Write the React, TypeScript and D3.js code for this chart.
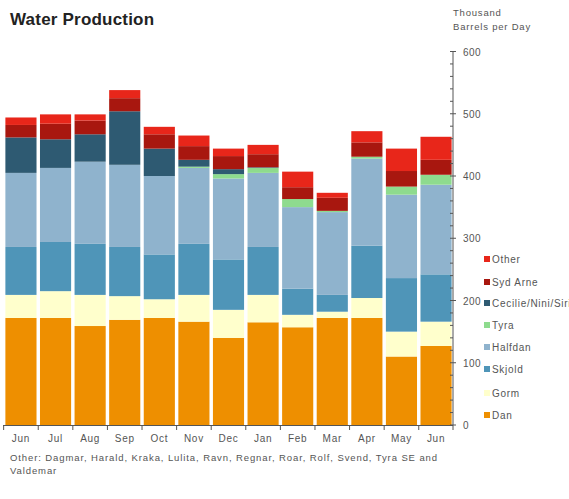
import React, { useEffect, useRef } from "react";
import * as d3 from "d3";

const months = ["Jun", "Jul", "Aug", "Sep", "Oct", "Nov", "Dec", "Jan", "Feb", "Mar", "Apr", "May", "Jun"];
const seriesNames = ["Dan", "Gorm", "Skjold", "Halfdan", "Tyra", "Cecilie/Nini/Siri", "Syd Arne", "Other"];
const dan = [172, 172, 159, 169, 172, 166, 140, 165, 157, 172, 172, 110, 127];
const gorm = [37, 43, 50, 38, 30, 43, 45, 44, 20, 10, 32, 40, 39];
const skjold = [77, 79, 82, 79, 72, 82, 81, 77, 42, 27, 84, 86, 76];
const halfdan = [119, 119, 132, 132, 126, 122, 130, 119, 131, 133, 140, 134, 144];
const tyra = [0, 0, 0, 0, 0, 2, 7, 8, 13, 2, 3, 13, 16];
const cecilie = [57, 46, 44, 86, 44, 11, 8, 1, 0, 0, 0, 0, 0];
const sydArne = [20, 25, 22, 21, 23, 22, 21, 21, 19, 21, 23, 25, 24];
const other = [12, 15, 10, 13, 12, 17, 12, 15, 25, 8, 18, 36, 37];
const colors = ["#ee8f00", "#ffffcc", "#4f95b8", "#8fb3cd", "#8edb8e", "#2e5a72", "#a8170f", "#e8261a"];
const yTicks = [0, 100, 200, 300, 400, 500, 600];

const App: React.FC = () => {
  const svgRef = useRef<SVGSVGElement>(null);

  useEffect(() => {
    const width = 569;
    const height = 499;
    const svg = d3.select(svgRef.current).attr("width", width).attr("height", height);
    svg.selectAll("*").remove();

    const font = "'Liberation Sans', Arial, sans-serif";
    const textColor = "#555";

    const values = [dan, gorm, skjold, halfdan, tyra, cecilie, sydArne, other];
    const rows = months.map((m, i) => {
      const r: any = { idx: i };
      seriesNames.forEach((s, j) => (r[s] = values[j][i]));
      return r;
    });

    const x = d3
      .scaleBand<number>()
      .domain(months.map((_, i) => i))
      .range([4, 453])
      .paddingInner(0.1)
      .paddingOuter(0.04);
    const y = d3.scaleLinear().domain([0, 600]).range([425, 51.5]);

    const stack = d3.stack<any>().keys(seriesNames);
    const layers = stack(rows);

    svg
      .append("g")
      .selectAll("g")
      .data(layers)
      .enter()
      .append("g")
      .attr("fill", (d, i) => colors[i])
      .selectAll("rect")
      .data(d => d)
      .enter()
      .append("rect")
      .attr("x", d => x(d.data.idx)!)
      .attr("width", x.bandwidth())
      .attr("y", d => y(d[1]))
      .attr("height", d => y(d[0]) - y(d[1]));

    // title
    svg
      .append("text")
      .attr("x", 10)
      .attr("y", 25)
      .text("Water Production")
      .style("font-family", font)
      .style("font-weight", "bold")
      .style("font-size", "17px")
      .style("letter-spacing", "0.2px")
      .style("fill", "#222");

    // y axis (right)
    const axisX = 453;
    const yAxis = svg.append("g").style("font-family", font);
    yAxis
      .append("line")
      .attr("x1", axisX)
      .attr("x2", axisX)
      .attr("y1", y(600))
      .attr("y2", y(0))
      .attr("stroke", "#555");
    const minor = d3.range(0, 601, 20);
    yAxis
      .selectAll("line.minor")
      .data(minor)
      .enter()
      .append("line")
      .attr("class", "minor")
      .attr("x1", axisX - 3)
      .attr("x2", d => (d % 100 === 0 ? axisX + 3 : axisX))
      .attr("y1", d => y(d))
      .attr("y2", d => y(d))
      .attr("stroke", "#555");
    yAxis
      .selectAll("text")
      .data(yTicks)
      .enter()
      .append("text")
      .attr("x", axisX + 10)
      .attr("y", d => y(d) + 4)
      .text(d => d)
      .style("font-size", "10px")
      .style("letter-spacing", "0.5px")
      .style("fill", textColor);
    ["Thousand", "Barrels per Day"].forEach((t, i) =>
      svg
        .append("text")
        .attr("x", 453)
        .attr("y", 16 + i * 14)
        .text(t)
        .style("font-family", font)
        .style("font-size", "9.5px")
        .style("letter-spacing", "0.8px")
        .style("fill", textColor)
    );

    // x axis
    const xAxis = svg.append("g").style("font-family", font);
    xAxis
      .append("line")
      .attr("x1", 3)
      .attr("x2", axisX)
      .attr("y1", y(0) + 0.5)
      .attr("y2", y(0) + 0.5)
      .attr("stroke", "#555");
    const step = x.step();
    const tickXs = months.map((_, i) => x(i)! - (step - x.bandwidth()) / 2).concat([axisX]);
    xAxis
      .selectAll("line.tick")
      .data(tickXs)
      .enter()
      .append("line")
      .attr("class", "tick")
      .attr("x1", d => d)
      .attr("x2", d => d)
      .attr("y1", y(0))
      .attr("y2", y(0) + 5)
      .attr("stroke", "#555");
    xAxis
      .selectAll("text")
      .data(months)
      .enter()
      .append("text")
      .attr("x", (d, i) => x(i)! + x.bandwidth() / 2)
      .attr("y", 442)
      .attr("text-anchor", "middle")
      .text(d => d)
      .style("font-size", "10px")
      .style("letter-spacing", "0.7px")
      .style("fill", textColor);

    // footnote
    const foot = ["Other: Dagmar, Harald, Kraka, Lulita, Ravn, Regnar, Roar, Rolf, Svend, Tyra SE and", "Valdemar"];
    svg
      .append("g")
      .selectAll("text")
      .data(foot)
      .enter()
      .append("text")
      .attr("x", 10)
      .attr("y", (d, i) => 461 + i * 13)
      .text(d => d)
      .style("font-family", font)
      .style("font-size", "9.5px")
      .style("letter-spacing", "0.9px")
      .style("fill", textColor);

    // legend
    const legendY = [259, 282, 303, 325, 347, 369, 393, 415];
    const legendOrder = seriesNames.map((s, i) => ({ s, i })).reverse();
    const legend = svg
      .append("g")
      .selectAll("g")
      .data(legendOrder)
      .enter()
      .append("g")
      .attr("transform", (d, k) => `translate(484, ${legendY[k]})`);
    legend
      .append("rect")
      .attr("x", 0)
      .attr("y", -3)
      .attr("width", 6)
      .attr("height", 6)
      .attr("fill", d => colors[d.i]);
    legend
      .append("text")
      .attr("x", 8)
      .attr("y", 3.5)
      .text(d => d.s)
      .style("font-family", font)
      .style("font-size", "10px")
      .style("letter-spacing", "0.7px")
      .style("fill", textColor);
  }, []);

  return (
    <div style={{ position: "absolute", left: 0, top: 0 }}>
      <svg ref={svgRef}></svg>
    </div>
  );
};

export default App;
